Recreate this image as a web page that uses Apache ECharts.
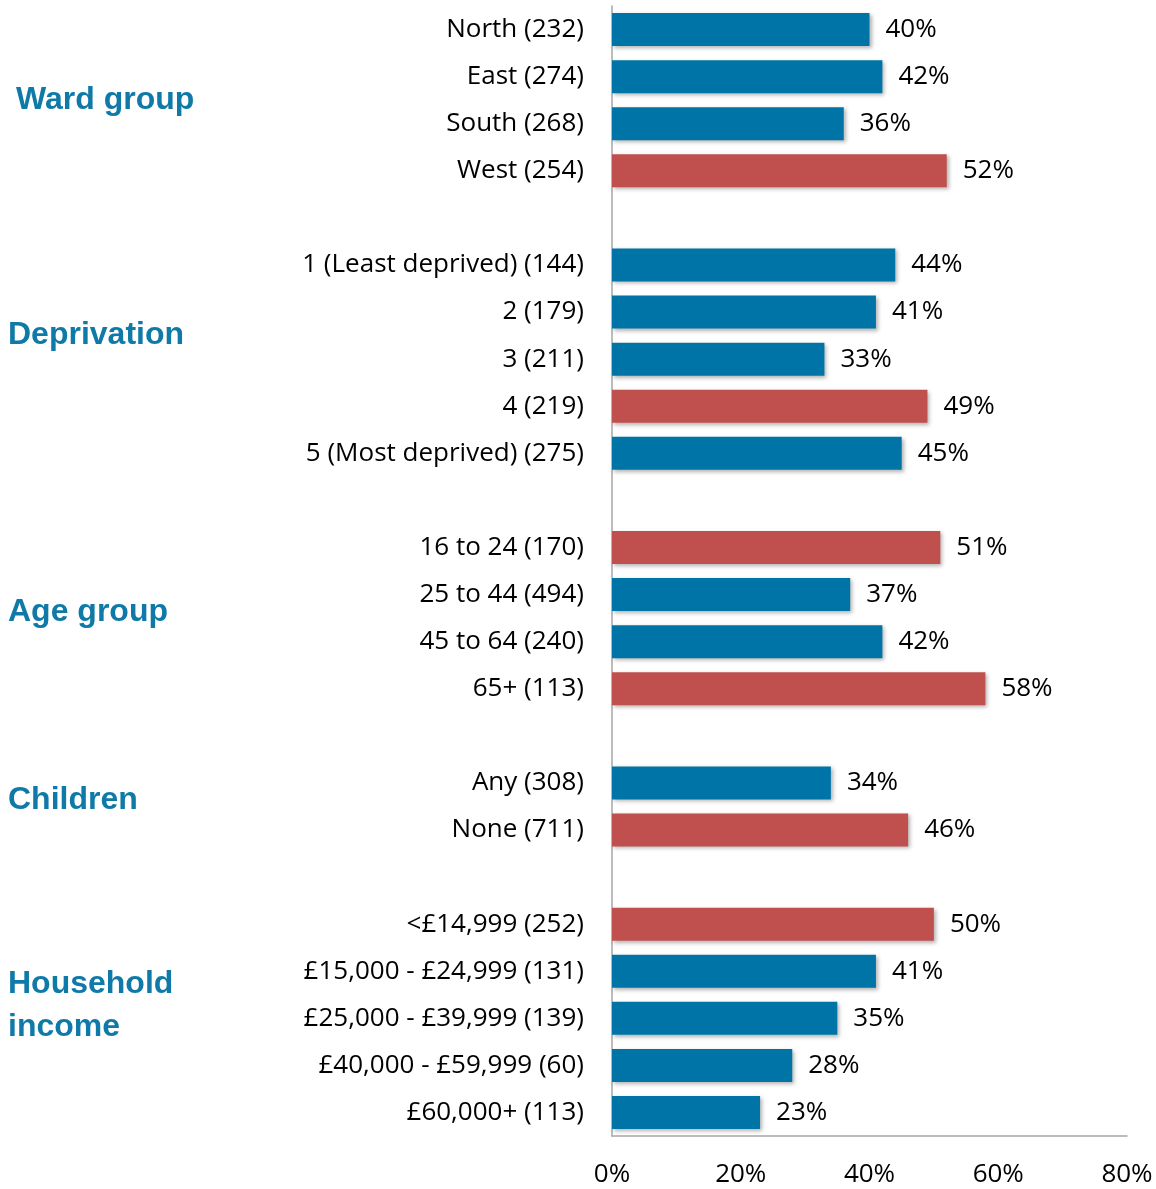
<!DOCTYPE html>
<html>
<head>
<meta charset="utf-8">
<script src="https://cdn.jsdelivr.net/npm/echarts@6/dist/echarts.min.js"></script>
<style>
  html, body { margin: 0; padding: 0; background: #ffffff; }
  #chart { width: 1156px; height: 1189px; }
</style>
</head>
<body>
<div id="chart"></div>
<script>
// Row labels, top to bottom; empty strings are spacer rows between groups
const categories = [
  'North (232)', 'East (274)', 'South (268)', 'West (254)', '',
  '1 (Least deprived) (144)', '2 (179)', '3 (211)', '4 (219)', '5 (Most deprived) (275)', '',
  '16 to 24 (170)', '25 to 44 (494)', '45 to 64 (240)', '65+ (113)', '',
  'Any (308)', 'None (711)', '',
  '<£14,999 (252)', '£15,000 - £24,999 (131)', '£25,000 - £39,999 (139)', '£40,000 - £59,999 (60)', '£60,000+ (113)'
];

// Percentage per row (null for spacer rows)
const values = [
  40, 42, 36, 52, null,
  44, 41, 33, 49, 45, null,
  51, 37, 42, 58, null,
  34, 46, null,
  50, 41, 35, 28, 23
];

// Rows drawn in the highlight colour
const highlighted = [
  false, false, false, true, false,
  false, false, false, true, false, false,
  true, false, false, true, false,
  false, true, false,
  true, false, false, false, false
];

// Group headings on the left
const groupNames = ['Ward group', 'Deprivation', 'Age group', 'Children', 'Household\nincome'];

const xTicks = [0, 20, 40, 60, 80];

const BLUE = '#0074A6';
const RED = '#C0504D';
const LABEL_FONT = '"Open Sans", sans-serif';
const LABEL_SIZE = 26;

const chart = echarts.init(document.getElementById('chart'), null, { renderer: 'canvas' });

const seriesData = values.map((v, i) => v === null ? '-' : {
  value: v,
  itemStyle: { color: highlighted[i] ? RED : BLUE }
});

const groupY = [100, 335, 612, 800, 1006];
const groupX = [16, 8, 8, 8, 8];
const HEAD_LINE = 43;

chart.setOption({
  animation: false,
  grid: { left: 612, right: 29, top: 6, bottom: 53, containLabel: false },
  xAxis: {
    type: 'value',
    min: xTicks[0],
    max: xTicks[xTicks.length - 1],
    interval: 20,
    axisLine: { show: true, lineStyle: { color: '#A6A6A6', width: 1.5 } },
    axisTick: { show: false },
    splitLine: { show: false },
    axisLabel: {
      formatter: v => v + '%',
      fontFamily: LABEL_FONT,
      fontSize: LABEL_SIZE,
      color: '#000',
      margin: 26
    }
  },
  yAxis: {
    type: 'category',
    inverse: true,
    data: categories,
    axisLine: { show: true, lineStyle: { color: '#A6A6A6', width: 1.5 } },
    axisTick: { show: false },
    axisLabel: {
      fontFamily: LABEL_FONT,
      fontSize: LABEL_SIZE,
      color: '#000',
      margin: 28,
      interval: 0
    }
  },
  series: [{
    type: 'bar',
    data: seriesData,
    barWidth: 33,
    itemStyle: {
      shadowBlur: 4,
      shadowOffsetX: 2,
      shadowOffsetY: 2,
      shadowColor: 'rgba(0,0,0,0.3)'
    },
    label: {
      show: true,
      position: 'right',
      distance: 16,
      formatter: p => p.value + '%',
      fontFamily: LABEL_FONT,
      fontSize: LABEL_SIZE,
      color: '#000'
    }
  }],
  graphic: groupNames.map((name, i) => ({
    type: 'text',
    left: groupX[i],
    top: groupY[i] - (name.split('\n').length * HEAD_LINE) / 2,
    style: {
      text: name,
      fontFamily: '"Liberation Sans", Arial, sans-serif',
      fontWeight: 'bold',
      fontSize: 32,
      fill: '#0F7AA8',
      lineHeight: HEAD_LINE
    }
  }))
});
</script>
</body>
</html>
